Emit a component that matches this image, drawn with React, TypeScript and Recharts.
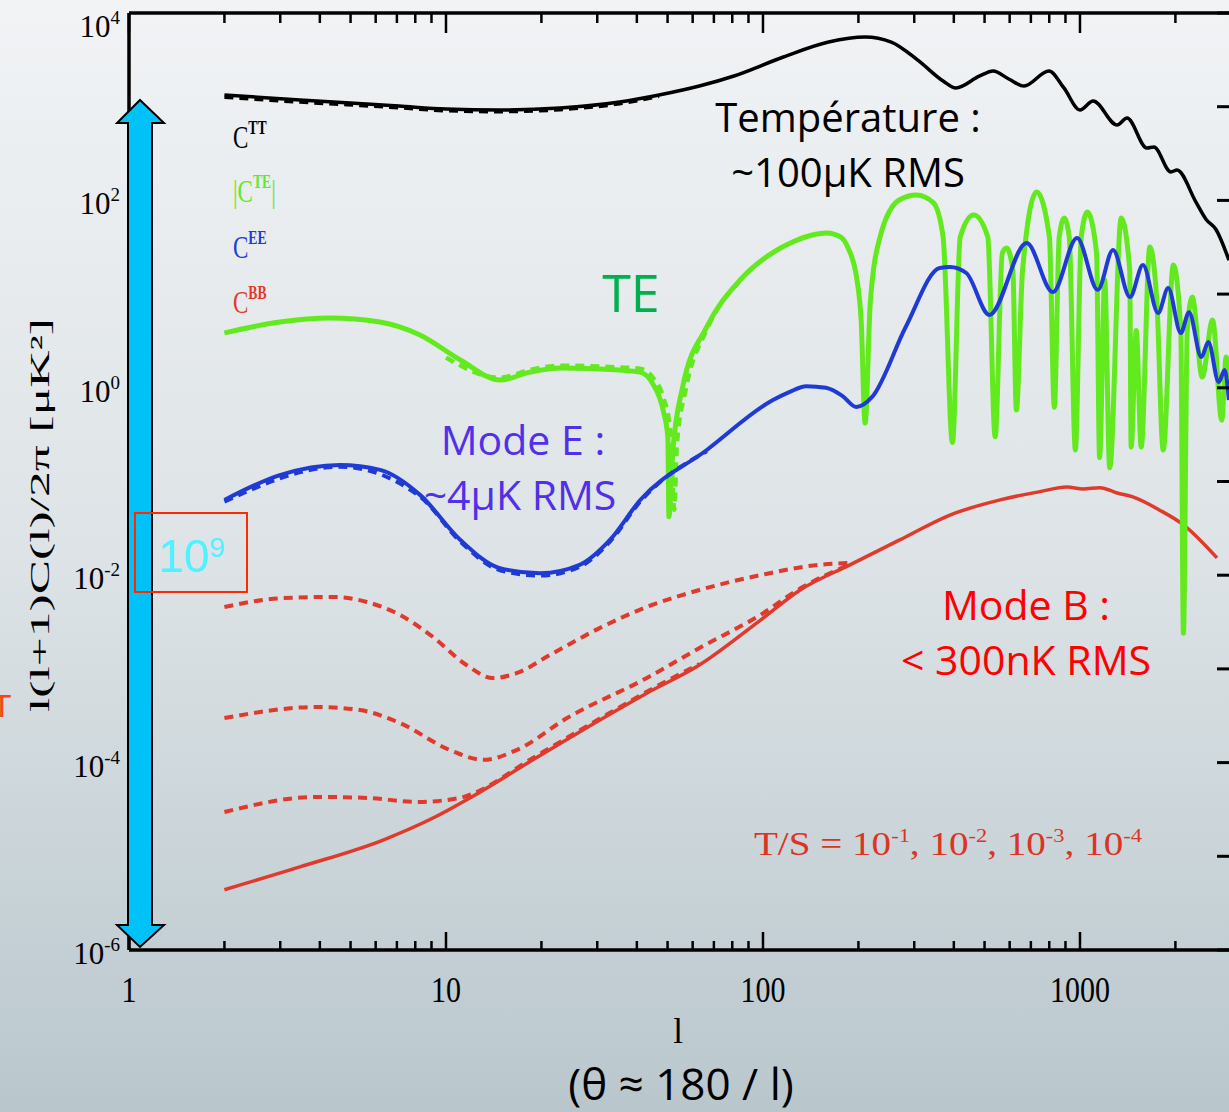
import React from 'react';
import { LineChart, Line, XAxis, YAxis, ReferenceLine } from 'recharts';

// ---------- data ----------
const ttL = [2, 3.46, 7.1, 10, 14.8, 22.9, 35.3, 47, 63, 81, 116, 161, 210, 254, 310, 370, 406, 483, 532, 596, 666, 798, 890, 1000, 1100, 1310, 1407, 1626, 1711, 1935, 2023, 2322, 2497, 2680, 2951];
const ttV = [1334, 1178, 1016, 944, 922, 968, 1122, 1334, 1663, 2128, 3390, 4900, 5546, 4900, 3080, 1880, 1585, 2128, 2404, 1977, 1663, 2404, 1585, 922, 1151, 638, 757, 362, 371, 201, 211, 96, 63, 49.5, 23];

const ttDashL = [2, 3.46, 7.1, 10, 14.8, 22.9, 35.3, 47];
const ttDashV = [1260, 1120, 975, 905, 885, 930, 1075, 1290];

const teL = [2, 2.99, 4.3, 6.19, 8.28, 11.1, 14.8, 18.4, 22.9, 35.3, 40.9, 44.8, 48.4, 50.1, 50.5, 51.9, 55.8, 66.5, 84.6, 108, 124, 144, 159, 176, 185, 198, 204, 210, 218, 234, 269, 305, 345, 370, 396, 419, 462, 512, 540, 569, 587, 614, 630, 659, 730, 801, 830, 860, 892, 925, 967, 1009, 1055, 1128, 1153, 1197, 1241, 1349, 1435, 1450, 1505, 1560, 1660, 1747, 1830, 1970, 2080, 2120, 2180, 2260, 2430, 2620, 2800, 2890, 2950];
const teV = [3.85, 5.04, 5.56, 5.04, 3.66, 1.98, 1.21, 1.47, 1.63, 1.55, 1.47, 1.12, 0.58, 0.3, 0.042, 0.2, 1.02, 4.46, 14.1, 28.1, 36, 43, 45, 40.6, 31.8, 14.1, 5.3, 0.42, 8.0, 40.6, 101, 114, 94, 40.6, 0.26, 40.6, 69.8, 40.6, 0.3, 27.5, 31, 18.1, 0.58, 18.1, 123, 40.6, 0.62, 40.6, 64.8, 40.6, 0.217, 40.6, 75, 27.5, 0.18, 14.1, 0.14, 64.8, 18.1, 0.233, 4.1, 0.233, 31.8, 8.65, 0.217, 20.4, 4.1, 0.0024, 4.1, 9.3, 1.3, 5.3, 0.45, 2.13, 1.3];

const teDashL = [10, 14.8, 18.4, 22.9, 35.3, 40.9, 44.8, 48.4, 51, 52.5, 53.5, 57, 66.5, 84.6];
const teDashV = [2.1, 1.28, 1.55, 1.72, 1.65, 1.6, 1.3, 0.8, 0.35, 0.05, 0.25, 0.95, 4.2, 13.8];

const eeL = [2, 2.99, 4.63, 6.2, 8.28, 11.1, 14.8, 19.8, 26.4, 32.9, 41, 66.5, 107.5, 121, 137, 158, 178, 197, 221, 282, 361, 389, 438, 518, 679, 821, 979, 1138, 1271, 1438, 1580, 1764, 1898, 2080, 2208, 2414, 2541, 2739, 2860, 2950];
const eeV = [0.0635, 0.117, 0.15, 0.133, 0.072, 0.0238, 0.0119, 0.0105, 0.0129, 0.0238, 0.0635, 0.217, 0.741, 0.9, 1.04, 1.0, 0.82, 0.624, 0.8, 4.46, 19, 19.5, 16.8, 6.0, 35, 10.5, 39.7, 11.1, 29.6, 9.3, 20.4, 6.3, 11.6, 3.85, 6.4, 2.13, 3.08, 1.15, 1.55, 0.74];

const eeDashL = [2, 4.63, 8.28, 11.1, 14.8, 19.8, 26.4, 32.9, 41, 66.5];
const eeDashV = [0.061, 0.144, 0.069, 0.0228, 0.0113, 0.0099, 0.0123, 0.0228, 0.061, 0.21];

const bbL = [2, 3.46, 6.33, 9.1, 12.2, 18.8, 30.6, 43, 63, 98, 131, 188, 270, 389, 560, 748, 910, 1022, 1156, 1310, 1468, 1779, 2125, 2706];
const bbV = [4.4e-6, 7.7e-6, 1.49e-5, 2.56e-5, 4.4e-5, 1.07e-4, 2.85e-4, 5.5e-4, 1.1e-3, 3.3e-3, 6.95e-3, 0.0129, 0.0238, 0.0439, 0.0636, 0.078, 0.0873, 0.083, 0.086, 0.0754, 0.0684, 0.0497, 0.0343, 0.0153];

const bb1L = [2, 3.06, 4.4, 5.63, 7.16, 9.1, 11.6, 14.06, 16.7, 21.3, 30.6, 43, 63, 98, 150, 188];
const bb1V = [4.58e-3, 5.7e-3, 5.86e-3, 5.18e-3, 3.76e-3, 2.19e-3, 1.1e-3, 8.0e-4, 9.0e-4, 1.41e-3, 2.74e-3, 4.58e-3, 6.95e-3, 0.01, 0.0129, 0.0135];

const bb2L = [2, 3.92, 5.35, 7.16, 10.3, 13.1, 16.7, 24.1, 43, 63, 98, 131, 188];
const bb2V = [2.99e-4, 3.92e-4, 3.64e-4, 2.64e-4, 1.36e-4, 1.07e-4, 1.36e-4, 2.99e-4, 8.0e-4, 1.67e-3, 3.76e-3, 7.2e-3, 0.0131];

const bb3L = [2, 3.92, 5.63, 8.1, 11.07, 12.2, 18.8, 30.6, 43, 63];
const bb3V = [2.97e-5, 4.3e-5, 4.2e-5, 3.8e-5, 4.2e-5, 4.7e-5, 1.12e-4, 2.95e-4, 5.7e-4, 1.13e-3];

const xTicks = [1, 2, 3, 4, 5, 6, 7, 8, 9, 10, 20, 30, 40, 50, 60, 70, 80, 90, 100, 200, 300, 400, 500, 600, 700, 800, 900, 1000, 2000];
const yTicks = [1e-6, 1e-5, 1e-4, 1e-3, 1e-2, 1e-1, 1, 10, 100, 1000, 10000];

const toRows = (ls: number[], vs: number[]) => ls.map((l, i) => ({ l, v: vs[i] }));

// ---------- layout ----------
const W = 1232;
const H = 1112;
const TOP = 13;
const RIGHT = 1232;
const X_MAX = 3017;

const SERIF = '"Liberation Serif", "DejaVu Serif", serif';
const SANS = '"Open Sans", "Noto Sans", sans-serif';

const isMajor = (v: number) => {
  const lg = Math.log10(v);
  return Math.abs(lg - Math.round(lg)) < 1e-6;
};

const XTick = (props: any) => {
  const { x, y, payload } = props;
  const v = payload.value;
  const major = isMajor(v);
  const s = String(v);
  return (
    <g>
      <line x1={x} x2={x} y1={y} y2={y - (major ? 18 : 9)} stroke="#000" strokeWidth={2.5} />
      <line x1={x} x2={x} y1={TOP} y2={TOP + (major ? 20 : 10)} stroke="#000" strokeWidth={2.5} />
      {major && (
        <text x={x} y={y + 52} textAnchor="middle" fontFamily={SERIF} fontSize={35} fill="#000"
          textLength={15 * s.length} lengthAdjust="spacingAndGlyphs">{s}</text>
      )}
    </g>
  );
};

const YTick = (props: any) => {
  const { x, y, payload } = props;
  const e = Math.round(Math.log10(payload.value));
  const cy = Math.max(y + 3, 26);
  return (
    <g>
      <line x1={RIGHT - 15} x2={RIGHT} y1={y} y2={y} stroke="#000" strokeWidth={3} />
      {e % 2 === 0 && (
        <text x={x - 9} y={cy + 11} textAnchor="end" fontFamily={SERIF} fill="#000">
          <tspan fontSize={31}>10</tspan>
          <tspan fontSize={19} dy={-13}>{e < 0 ? `-${-e}` : `${e}`}</tspan>
        </text>
      )}
    </g>
  );
};

const Sup = ({ children, size, dy }: any) => (
  <tspan fontSize={size} dy={dy}>{children}</tspan>
);

const LegendLabel = ({ y, color, sup, bars }: any) => (
  <g transform={`translate(233 ${y}) scale(0.72 1)`}>
    <text x={0} y={0} fontFamily={SERIF} fill={color}>
      <tspan fontSize={32}>{bars ? '|C' : 'C'}</tspan>
      <tspan fontSize={19} fontWeight="bold" dy={-14}>{sup}</tspan>
      {bars && <tspan fontSize={32} dy={14}>|</tspan>}
    </text>
  </g>
);

export default function App() {
  const line = (key: string, rows: any[], color: string, width: number, dashed = false) => (
    <Line key={key} data={rows} dataKey="v" type="monotone" dot={false} activeDot={false}
      stroke={color} strokeWidth={width} strokeDasharray={dashed ? '9 6' : undefined}
      isAnimationActive={false} legendType="none" />
  );

  const red = '#e03a2c';
  const green = '#62ea1e';
  const blue = '#1f3bd4';

  return (
    <div style={{
      position: 'absolute', left: 0, top: 0, width: 1229, height: 1112, overflow: 'hidden',
      background: 'linear-gradient(#f1f3f5 0%, #dde3e6 50%, #b9c7cd 100%)',
    }}>
      <LineChart width={W} height={H} margin={{ top: TOP, right: 0, bottom: 0, left: 0 }}>
        <XAxis dataKey="l" type="number" scale="log" domain={[1, X_MAX]} allowDataOverflow
          ticks={xTicks} interval={0} height={162} tickSize={0} tickMargin={0}
          tickLine={false} tick={<XTick />} axisLine={{ stroke: '#000', strokeWidth: 3.5 }} />
        <YAxis type="number" scale="log" domain={[1e-6, 1e4]} allowDataOverflow
          ticks={yTicks} interval={0} width={129} tickSize={0} tickMargin={0}
          tickLine={false} tick={<YTick />} axisLine={{ stroke: '#000', strokeWidth: 3.5 }} />
        <ReferenceLine y={1e4} stroke="#000" strokeWidth={3.5} />
        {line('bb1', toRows(bb1L, bb1V), red, 4, true)}
        {line('bb2', toRows(bb2L, bb2V), red, 4, true)}
        {line('bb3', toRows(bb3L, bb3V), red, 4, true)}
        {line('bb', toRows(bbL, bbV), red, 3.5)}
        {line('ted', toRows(teDashL, teDashV), green, 4.5, true)}
        {line('te', toRows(teL, teV), green, 5)}
        {line('eed', toRows(eeDashL, eeDashV), blue, 4, true)}
        {line('ee', toRows(eeL, eeV), blue, 4)}
        {line('ttd', toRows(ttDashL, ttDashV), '#000', 3.5, true)}
        {line('tt', toRows(ttL, ttV), '#000', 3.5)}
      </LineChart>

      <svg width={1229} height={1112} style={{ position: 'absolute', left: 0, top: 0, pointerEvents: 'none' }}>
        {/* double arrow */}
        <path d="M140 100 L164 123 L152 123 L152 925 L164 925 L140 947 L117 925 L128 925 L128 123 L117 123 Z"
          fill="#00c2f8" stroke="#000" strokeWidth={2} />
        {/* red box with 10^9 */}
        <rect x={135} y={513} width={112} height={79} fill="none" stroke="#ff2a00" strokeWidth={2} />
        <text x={158} y={572} fontFamily='"Liberation Sans", Arial, sans-serif' fill="#4ff3ff">
          <tspan fontSize={46}>10</tspan>
          <tspan fontSize={28} dy={-15}>9</tspan>
        </text>
        {/* cut-off letter at left */}
        <text x={-8} y={717} fontFamily='"Liberation Sans", Arial, sans-serif' fontSize={32} fill="#ff4010">T</text>

        {/* legend labels */}
        <LegendLabel y={148} color="#000" sup="TT" />
        <LegendLabel y={202} color={green} sup="TE" bars />
        <LegendLabel y={258} color={blue} sup="EE" />
        <LegendLabel y={313} color={red} sup="BB" />

        {/* annotations */}
        <text x={848} y={132} textAnchor="middle" fontFamily={SANS} fontSize={40} fill="#000">Température :</text>
        <text x={848} y={187} textAnchor="middle" fontFamily={SANS} fontSize={40} fill="#000">~100µK RMS</text>
        <text x={631} y={312} textAnchor="middle" fontFamily={SANS} fontSize={52} fill="#00b050">TE</text>
        <text x={523} y={455} textAnchor="middle" fontFamily={SANS} fontSize={41} fill="#5230e8">Mode E :</text>
        <text x={520} y={510} textAnchor="middle" fontFamily={SANS} fontSize={41} fill="#5230e8">~4µK RMS</text>
        <text x={1026} y={620} textAnchor="middle" fontFamily={SANS} fontSize={41} fill="#ff0000">Mode B :</text>
        <text x={1026} y={675} textAnchor="middle" fontFamily={SANS} fontSize={41} fill="#ff0000">&lt; 300nK RMS</text>

        <text x={754} y={855} fontFamily={SERIF} fill="#dd3322" textLength={388} lengthAdjust="spacingAndGlyphs">
          <tspan fontSize={33}>T/S = 10</tspan><Sup size={19} dy={-13}>-1</Sup>
          <tspan fontSize={33} dy={13}>, 10</tspan><Sup size={19} dy={-13}>-2</Sup>
          <tspan fontSize={33} dy={13}>, 10</tspan><Sup size={19} dy={-13}>-3</Sup>
          <tspan fontSize={33} dy={13}>, 10</tspan><Sup size={19} dy={-13}>-4</Sup>
        </text>

        {/* axis titles */}
        <text x={678} y={1043} textAnchor="middle" fontFamily={SERIF} fontSize={35} fill="#000">l</text>
        <text x={681} y={1100} textAnchor="middle" fontFamily={SANS} fontSize={44} fill="#000">(θ ≈ 180 / l)</text>
        <text transform="translate(49 515) rotate(-90)" textAnchor="middle" fontFamily={SERIF} fontSize={27} fill="#000"
          textLength={394} lengthAdjust="spacingAndGlyphs">l(l+1)C(l)/2π  [μK²]</text>
      </svg>
    </div>
  );
}
